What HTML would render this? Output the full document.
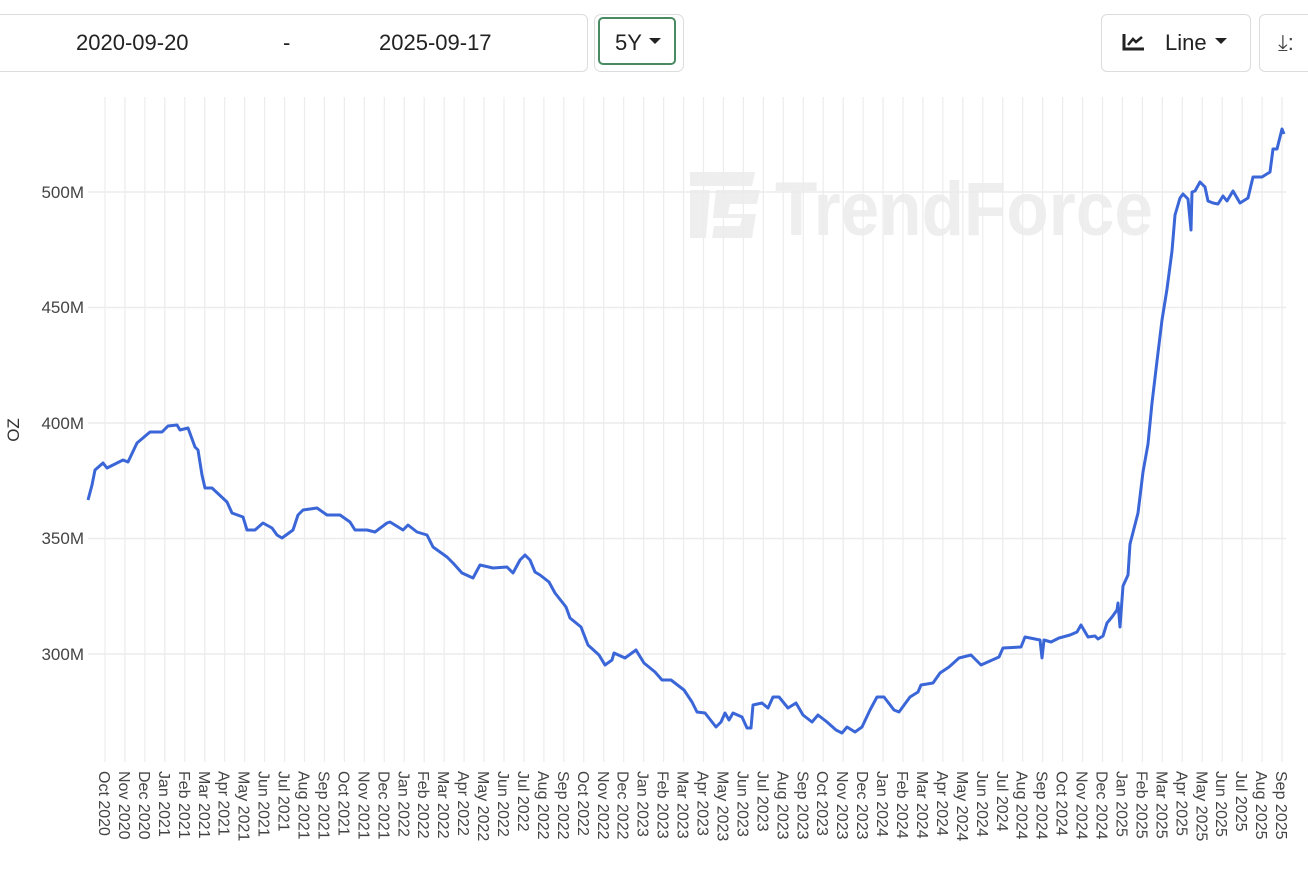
<!DOCTYPE html>
<html><head><meta charset="utf-8"><style>
body{margin:0;width:1308px;height:880px;background:#fff;overflow:hidden;font-family:"Liberation Sans",sans-serif;position:relative}
.box{position:absolute;border:1px solid #dcdcdc;border-radius:6px;background:#fff}
.t{position:absolute;font-size:22px;color:#222}
</style></head><body>
<div class="box" style="left:-8px;top:14px;width:594px;height:56px"></div>
<div class="t" style="left:76px;top:30px">2020-09-20</div>
<div class="t" style="left:283px;top:30px">-</div>
<div class="t" style="left:379px;top:30px">2025-09-17</div>
<div class="box" style="left:594px;top:14px;width:88px;height:56px;border-radius:7px"></div>
<div style="position:absolute;left:598px;top:17px;width:78px;height:48px;border:2.5px solid #4a8a63;border-radius:5px;box-sizing:border-box"></div>
<div class="t" style="left:615px;top:30px">5Y</div>
<div style="position:absolute;left:649px;top:38px;border-left:6px solid transparent;border-right:6px solid transparent;border-top:6px solid #222"></div>
<div class="box" style="left:1101px;top:14px;width:148px;height:56px"></div>
<svg style="position:absolute;left:1122px;top:33px" width="24" height="18"><path d="M2 1V16H22" stroke="#222" stroke-width="3" fill="none"/><path d="M6 12L11 6L14 9L20 4" stroke="#222" stroke-width="2.5" fill="none"/></svg>
<div class="t" style="left:1165px;top:30px">Line</div>
<div style="position:absolute;left:1215px;top:38px;border-left:6px solid transparent;border-right:6px solid transparent;border-top:6px solid #222"></div>
<div class="box" style="left:1259px;top:14px;width:70px;height:56px"></div>
<div class="t" style="left:1278px;top:30px;color:#444">⤓:</div>
<svg style="position:absolute;left:0;top:0" width="1308" height="880">
<g fill="#eeeeee">
<path d="M690 172H755L752 186H690Z"/><path d="M690 190H710L706 238H690Z"/><path d="M716 190H760L757 204H730L728 214H756L752 238H712L714 226H740L742 218H713Z"/>
<text x="775" y="235" font-family="Liberation Sans" font-weight="bold" font-size="76" textLength="378" lengthAdjust="spacingAndGlyphs">TrendForce</text>
</g>
<g id="vg" stroke="#ececec" stroke-width="1.2"></g>
<g stroke="#ececec" stroke-width="1.5">
<line x1="88" y1="192" x2="1286" y2="192"/><line x1="88" y1="307.5" x2="1286" y2="307.5"/><line x1="88" y1="423" x2="1286" y2="423"/><line x1="88" y1="538.5" x2="1286" y2="538.5"/><line x1="88" y1="654" x2="1286" y2="654"/>
</g>
<g font-size="17" fill="#444" text-anchor="end">
<text x="84" y="198">500M</text><text x="84" y="313">450M</text><text x="84" y="429">400M</text><text x="84" y="544">350M</text><text x="84" y="660">300M</text>
</g>
<text transform="translate(19,430) rotate(-90)" font-size="17" fill="#333" text-anchor="middle">OZ</text>
<g id="xl" font-size="16" fill="#444"></g>
<polyline fill="none" stroke="#3a66d8" stroke-width="3" stroke-linejoin="round" points="88,500 92,485 95,470 103,463 107,468 123,460 128,462 137,443 150,432 162,432 168,426 177,425 180,430 188,428 195,447 198,450 202,475 205,488 212,488 227,502 232,513 243,517 247,530 255,530 263,523 272,528 277,535 282,538 293,530 298,515 303,510 317,508 327,515 340,515 350,522 355,530 367,530 375,532 387,523 390,522 403,530 408,525 417,532 427,535 433,547 447,557 453,563 462,573 473,578 480,565 493,568 507,567 513,573 520,560 525,555 530,560 535,572 540,575 549,582 555,593 566,607 570,618 581,627 588,645 599,655 605,665 612,660 614,653 625,658 636,650 644,663 655,672 662,680 671,680 684,690 692,702 697,712 705,713 716,727 721,722 725,713 729,720 733,713 742,717 747,728 751,728 753,705 762,703 768,708 773,697 779,697 788,708 796,703 803,715 812,722 818,715 827,722 836,730 842,733 847,727 855,732 862,727 870,710 877,697 884,697 894,710 899,712 910,697 918,692 921,685 933,683 940,673 949,667 959,658 971,655 981,665 999,657 1003,648 1021,647 1025,637 1040,640 1042,658 1044,640 1051,642 1059,638 1070,635 1077,632 1081,625 1088,637 1095,636 1098,639 1103,636 1107,623 1112,617 1117,610 1118,603 1120,627 1123,586 1128,575 1130,544 1138,513 1143,472 1148,444 1152,403 1157,361 1162,320 1167,289 1172,251 1175,215 1180,198 1183,194 1188,199 1191,230 1192,192 1195,191 1200,182 1205,187 1208,201 1213,203 1218,204 1223,196 1227,201 1233,191 1240,203 1248,198 1253,177 1262,177 1270,172 1273,149 1277,149 1282,129 1284,134"/>
</svg>
<script>
var m=["Oct","Nov","Dec","Jan","Feb","Mar","Apr","May","Jun","Jul","Aug","Sep"];
var vg=document.getElementById("vg"),xl=document.getElementById("xl"),ns="http://www.w3.org/2000/svg";
for(var i=0;i<60;i++){var x=105+i*19.95;var yr=2020+Math.floor((i+9)/12);
var l=document.createElementNS(ns,"line");l.setAttribute("x1",x);l.setAttribute("x2",x);l.setAttribute("y1",97);l.setAttribute("y2",762);vg.appendChild(l);
var t=document.createElementNS(ns,"text");t.setAttribute("transform","translate("+(x-6)+",771) rotate(90)");t.textContent=m[i%12]+" "+yr;xl.appendChild(t);}
</script>
</body></html>
